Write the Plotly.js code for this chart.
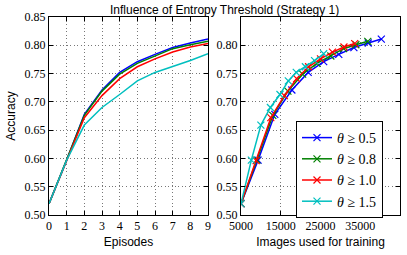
<!DOCTYPE html>
<html>
<head>
<meta charset="utf-8">
<script src="https://cdn.plot.ly/plotly-3.0.1.min.js"></script>
<style>html,body{margin:0;padding:0;background:#fff;}#chart{width:407px;height:255px;}</style>
</head>
<body>
<div id="chart"></div>
<script>
// ---- data ----
const episodes = [0, 1, 2, 3, 4, 5, 6, 7, 8, 9];
const seriesNames = ['<i>θ</i> ≥ 0.5', '<i>θ</i> ≥ 0.8', '<i>θ</i> ≥ 1.0', '<i>θ</i> ≥ 1.5'];
const acc05 = [0.520, 0.597, 0.678, 0.721, 0.752, 0.771, 0.784, 0.796, 0.804, 0.811];
const acc08 = [0.520, 0.597, 0.676, 0.719, 0.749, 0.768, 0.781, 0.794, 0.801, 0.807];
const acc10 = [0.520, 0.596, 0.672, 0.711, 0.741, 0.762, 0.776, 0.788, 0.797, 0.803];
const acc15 = [0.520, 0.597, 0.659, 0.690, 0.713, 0.737, 0.752, 0.762, 0.773, 0.785];
const imgs05 = [5000, 9300, 13500, 17800, 21900, 25800, 29600, 33400, 37000, 40300];
const imgs08 = [5000, 9000, 13000, 16800, 20500, 24100, 27600, 30800, 33900, 36900];
const imgs10 = [5000, 8800, 12500, 15900, 19000, 22000, 25000, 28000, 30900, 33600];
const imgs15 = [5000, 7600, 10000, 12400, 14800, 16900, 18900, 21200, 23500, 25800];
const leftXTicks = [0, 1, 2, 3, 4, 5, 6, 7, 8, 9];
const leftYTicks = [0.50, 0.55, 0.60, 0.65, 0.70, 0.75, 0.80, 0.85];
const rightXTicks = [5000, 15000, 25000, 35000];
const rightYTicks = [0.50, 0.55, 0.60, 0.65, 0.70, 0.75, 0.80];

const colors = ['#0000ff', '#008000', '#ff0000', '#00bfbf'];
const accs = [acc05, acc08, acc10, acc15];
const imgs = [imgs05, imgs08, imgs10, imgs15];

const traces = [];
accs.forEach((a, i) => {
  traces.push({x: episodes, y: a, type: 'scatter', mode: 'lines', xaxis: 'x', yaxis: 'y',
    line: {color: colors[i], width: 1.5}, showlegend: false, hoverinfo: 'skip'});
});
accs.forEach((a, i) => {
  traces.push({x: imgs[i], y: a, type: 'scatter', mode: 'lines+markers', xaxis: 'x2', yaxis: 'y2',
    name: seriesNames[i], line: {color: colors[i], width: 1.5},
    marker: {symbol: 'x-thin', size: 7, line: {color: colors[i], width: 1.2}, color: colors[i]}});
});

const serif = 'Liberation Serif, DejaVu Serif, serif';
const sans = 'Liberation Sans, Arial, sans-serif';
const axisCommon = {
  showline: true, mirror: 'ticks', linecolor: '#000', linewidth: 1,
  ticks: 'inside', ticklen: 4, tickcolor: '#000',
  showgrid: true, gridcolor: '#777', griddash: '1px,2.5px', gridwidth: 1,
  zeroline: false, tickfont: {family: serif, size: 12, color: '#000'}, automargin: false
};

const layout = {
  width: 407, height: 255,
  margin: {l: 0, r: 0, t: 0, b: 0},
  paper_bgcolor: '#fff', plot_bgcolor: '#fff',
  xaxis: Object.assign({}, axisCommon, {domain: [49/407, 208/407], range: [0, 9], tickvals: leftXTicks,
    ticktext: leftXTicks.map(String), anchor: 'y',
    title: {text: 'Episodes', font: {family: sans, size: 12, color: '#000'}, standoff: 5}}),
  yaxis: Object.assign({}, axisCommon, {domain: [40/255, 238/255], range: [0.5, 0.85], tickvals: leftYTicks,
    ticktext: leftYTicks.map(v => v.toFixed(2)), anchor: 'x',
    title: {text: 'Accuracy', font: {family: sans, size: 12, color: '#000'}, standoff: 6}}),
  xaxis2: Object.assign({}, axisCommon, {domain: [241/407, 400/407], range: [5000, 45000], tickvals: rightXTicks,
    ticktext: rightXTicks.map(String), anchor: 'y2',
    title: {text: 'Images used for training', font: {family: sans, size: 12, color: '#000'}, standoff: 5}}),
  yaxis2: Object.assign({}, axisCommon, {domain: [40/255, 238/255], range: [0.5, 0.85], tickvals: rightYTicks,
    ticktext: rightYTicks.map(v => v.toFixed(2)), anchor: 'x2'}),
  showlegend: true,
  legend: {x: 296/407, y: 134/255, xanchor: 'left', yanchor: 'top', bgcolor: '#fff',
    bordercolor: '#000', borderwidth: 1, font: {family: serif, size: 14, color: '#000'},
    tracegroupgap: 0, itemwidth: 30, tracegroupgap: 0},
  annotations: [{text: 'Influence of Entropy Threshold (Strategy 1)', xref: 'paper', yref: 'paper',
    x: 224/407, y: 1 - 10/255, xanchor: 'center', yanchor: 'middle', showarrow: false,
    font: {family: sans, size: 12, color: '#000'}}]
};

Plotly.newPlot('chart', traces, layout, {displayModeBar: false, staticPlot: true});
</script>
</body>
</html>
